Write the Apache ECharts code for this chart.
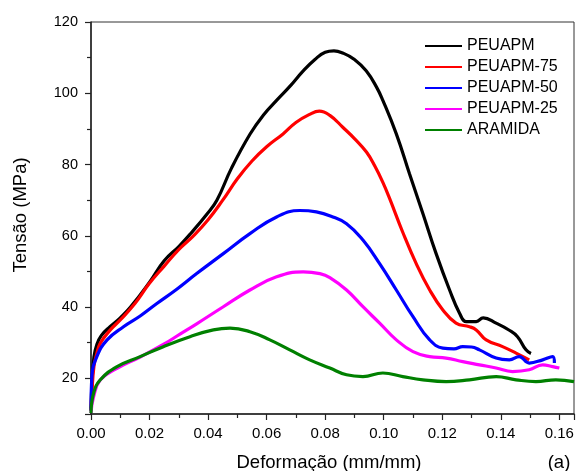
<!DOCTYPE html>
<html>
<head>
<meta charset="utf-8">
<script src="https://cdn.jsdelivr.net/npm/echarts@6/dist/echarts.min.js"></script>
<style>
  html, body { margin: 0; padding: 0; background: #ffffff; }
  #chart { width: 577px; height: 471px; }
</style>
</head>
<body>
<div id="chart"></div>
<script>
// Series names
const seriesNames = ['PEUAPM', 'PEUAPM-75', 'PEUAPM-50', 'PEUAPM-25', 'ARAMIDA'];

// PEUAPM (black)
const peuapmX = [0, 0.0003, 0.001, 0.002, 0.0035, 0.0065, 0.010, 0.0135, 0.020, 0.025, 0.030, 0.034, 0.0395, 0.043, 0.048, 0.0543, 0.059, 0.0634, 0.068, 0.0725, 0.0765, 0.080, 0.083, 0.086, 0.090, 0.094, 0.0975, 0.0997, 0.1043, 0.1088, 0.1134, 0.1179, 0.1225, 0.1259, 0.1282, 0.1316, 0.1340, 0.1384, 0.1429, 0.1457, 0.1486, 0.1503];
const peuapmY = [11, 18, 26, 29.5, 32, 34.5, 37, 40, 47, 53, 57, 60.6, 66, 70, 79, 88.5, 94, 98, 102, 106.3, 109.5, 111.5, 111.9, 111.3, 109.5, 106.3, 101.8, 98, 88.6, 77.4, 66.2, 55, 44.8, 38.3, 35.9, 35.9, 37, 35.5, 33.5, 31.7, 28, 27];

// PEUAPM-75 (red)
const peuapm75X = [0, 0.0003, 0.001, 0.002, 0.0032, 0.0066, 0.010, 0.015, 0.0199, 0.025, 0.0298, 0.035, 0.040, 0.045, 0.050, 0.055, 0.060, 0.0656, 0.070, 0.0745, 0.078, 0.0816, 0.0861, 0.0900, 0.0941, 0.0970, 0.0997, 0.1020, 0.1065, 0.1111, 0.1157, 0.1202, 0.1247, 0.1293, 0.1316, 0.1350, 0.1406, 0.1452, 0.1497];
const peuapm75Y = [11, 16, 23.3, 27, 29.9, 33.6, 36.4, 41, 46.6, 51.5, 56, 60, 64.5, 70, 76, 81, 85, 88.6, 91.8, 94, 95, 93.8, 90.4, 87.3, 83.5, 79.5, 75, 70.5, 61, 52.2, 44.8, 39.2, 35.5, 34.5, 33.6, 30.8, 28.9, 27.1, 25.2];

// PEUAPM-50 (blue)
const peuapm50X = [0, 0.0003, 0.002, 0.0055, 0.0111, 0.0168, 0.0225, 0.0293, 0.0361, 0.0452, 0.0543, 0.0634, 0.0713, 0.0770, 0.0820, 0.0873, 0.0929, 0.0986, 0.1043, 0.1100, 0.1157, 0.1202, 0.1240, 0.1270, 0.1300, 0.1327, 0.1384, 0.1429, 0.1463, 0.1497, 0.1543, 0.1577, 0.1583];
const peuapm50Y = [11, 20.5, 26.1, 30.8, 34.5, 37.5, 41, 45, 49.4, 55, 60.6, 65.3, 67.1, 66.7, 65.5, 63.4, 58.8, 52.2, 44.8, 37.3, 30.8, 28.5, 28.3, 28.9, 28.8, 28, 25.7, 25.2, 26.1, 24.3, 25.2, 26.1, 24.3];

// PEUAPM-25 (magenta)
const peuapm25X = [0, 0.0009, 0.0032, 0.0089, 0.0168, 0.0247, 0.0304, 0.0361, 0.0452, 0.0543, 0.0634, 0.0725, 0.0782, 0.0816, 0.0873, 0.0929, 0.0986, 0.1043, 0.1100, 0.1157, 0.1213, 0.1270, 0.1327, 0.1384, 0.1440, 0.1497, 0.1543, 0.1577, 0.1600];
const peuapm25Y = [10.3, 14.9, 19.6, 22.8, 26, 29.5, 32.4, 35.3, 40.1, 44.8, 48.5, 49.9, 49.4, 48.3, 44.8, 40.1, 35.5, 30.8, 27.5, 26.1, 25.7, 24.7, 23.8, 22.9, 21.9, 22.4, 23.8, 23.3, 22.9];

// ARAMIDA (green)
const aramidaX = [0, 0.0009, 0.0032, 0.0089, 0.0168, 0.0247, 0.0338, 0.0418, 0.0475, 0.0543, 0.0611, 0.0679, 0.0747, 0.0816, 0.0873, 0.0929, 0.0997, 0.1065, 0.1134, 0.1213, 0.1293, 0.1384, 0.1452, 0.1520, 0.1588, 0.165];
const aramidaY = [10.3, 15.9, 19.6, 23.3, 26.1, 28.9, 31.7, 33.6, 34.1, 33.1, 30.8, 28, 25.2, 22.9, 21, 20.5, 21.5, 20.5, 19.6, 19.1, 19.6, 20.5, 19.6, 19.1, 19.6, 19.1];

const seriesX = [peuapmX, peuapm75X, peuapm50X, peuapm25X, aramidaX];
const seriesY = [peuapmY, peuapm75Y, peuapm50Y, peuapm25Y, aramidaY];
const seriesColors = ['#000000', '#ff0000', '#0000ff', '#ff00ff', '#008000'];

const FONT = '"Liberation Sans", Arial, sans-serif';

const chart = echarts.init(document.getElementById('chart'), null, { renderer: 'canvas' });

const series = seriesNames.map((name, i) => ({
  name: name,
  type: 'line',
  data: seriesX[i].map((x, j) => [x, seriesY[i][j]]),
  showSymbol: false,
  symbol: 'none',
  smooth: 0.45,
  lineStyle: { color: seriesColors[i], width: 3.2 },
  itemStyle: { color: seriesColors[i] },
  emphasis: { disabled: true },
  animation: false
}));

chart.setOption({
  backgroundColor: '#ffffff',
  animation: false,
  grid: {
    left: 91, right: 3, top: 22, bottom: 57,
    show: true, borderColor: '#333', borderWidth: 1, backgroundColor: 'transparent'
  },
  legend: {
    orient: 'vertical',
    left: 425,
    top: 38,
    padding: 0,
    itemWidth: 37,
    itemHeight: 2,
    itemGap: 5,
    icon: 'rect',
    textStyle: { fontFamily: FONT, fontSize: 16, color: '#000', lineHeight: 16 },
    data: seriesNames
  },
  xAxis: {
    type: 'value',
    min: 0,
    max: 0.165,
    splitNumber: 8,
    axisLine: { show: true, onZero: false, lineStyle: { color: '#222', width: 1.5 } },
    axisTick: { show: true, inside: false, length: 6, lineStyle: { color: '#222', width: 1.2 } },
    minorTick: { show: true, splitNumber: 2, length: 4, lineStyle: { color: '#222', width: 1.2 } },
    splitLine: { show: false },
    axisLabel: {
      margin: 12,
      fontFamily: FONT, fontSize: 15, color: '#000',
      formatter: function (v) {
        const k = Math.round(v / 0.02);
        if (Math.abs(v - k * 0.02) > 1e-6) return '';
        return (k * 0.02).toFixed(2);
      }
    }
  },
  yAxis: {
    type: 'value',
    min: 10,
    max: 120,
    splitNumber: 5,
    axisLine: { show: true, onZero: false, lineStyle: { color: '#222', width: 1.5 } },
    axisTick: { show: true, inside: false, length: 6, lineStyle: { color: '#222', width: 1.2 } },
    minorTick: { show: true, splitNumber: 2, length: 4, lineStyle: { color: '#222', width: 1.2 } },
    splitLine: { show: false },
    axisLabel: {
      margin: 13,
      fontFamily: FONT, fontSize: 14.5, color: '#000',
      formatter: function (v) {
        if (Math.abs(v % 20) > 1e-6) return '';
        return String(Math.round(v));
      }
    }
  },
  graphic: [
    {
      type: 'text', x: 329, y: 463,
      style: { text: 'Deformação (mm/mm)', fontFamily: FONT, fontSize: 18.5, fill: '#000', textAlign: 'center', textVerticalAlign: 'middle' }
    },
    {
      type: 'text', x: 559, y: 463,
      style: { text: '(a)', fontFamily: FONT, fontSize: 18.5, fill: '#000', textAlign: 'center', textVerticalAlign: 'middle' }
    },
    {
      type: 'text', x: 21, y: 215, rotation: Math.PI / 2,
      style: { text: 'Tensão (MPa)', fontFamily: FONT, fontSize: 18.5, fill: '#000', textAlign: 'center', textVerticalAlign: 'middle' }
    }
  ],
  series: series
});
</script>
</body>
</html>
